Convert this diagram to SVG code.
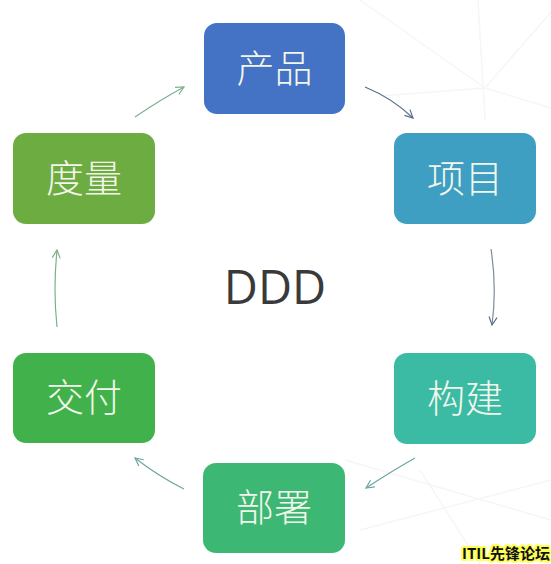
<svg xmlns="http://www.w3.org/2000/svg" width="551" height="564" viewBox="0 0 551 564">
<style>
.bg{stroke:#f6f6f6;stroke-width:1.5;fill:none}
.node rect{rx:13;ry:13}
.node text{font-family:"Noto Sans CJK SC","Noto Sans",sans-serif;font-size:38px;fill:#F3F6EC;text-anchor:middle;font-weight:300}
.conn path{fill:none;stroke-width:1.2}
.blue{stroke:#5B6E8C}
.teal{stroke:#6FA6A3}
.green{stroke:#7BB08C}
</style>
<defs>
<marker id="mb" viewBox="0 0 10 10" refX="9" refY="5" markerWidth="10" markerHeight="10" markerUnits="userSpaceOnUse" orient="auto"><path d="M1,1 L9,5 L1,9" fill="none" stroke="#5B6E8C" stroke-width="1.2"/></marker>
<marker id="mt" viewBox="0 0 10 10" refX="9" refY="5" markerWidth="10" markerHeight="10" markerUnits="userSpaceOnUse" orient="auto"><path d="M1,1 L9,5 L1,9" fill="none" stroke="#6FA6A3" stroke-width="1.2"/></marker>
<marker id="mg" viewBox="0 0 10 10" refX="9" refY="5" markerWidth="10" markerHeight="10" markerUnits="userSpaceOnUse" orient="auto"><path d="M1,1 L9,5 L1,9" fill="none" stroke="#7BB08C" stroke-width="1.2"/></marker>
</defs>
<rect width="551" height="564" fill="#ffffff"/>
<g id="background">
<path class="bg" d="M360,0 L485,88 M478,0 L485,120 M551,12 L485,88 M380,96 L485,88 L551,108"/>
<path class="bg" d="M345,460 L551,520 M360,530 L551,480 M420,470 L480,564"/>
</g>
<g id="connectors" class="conn">
<path class="blue" d="M365,87 Q392,98 413,118" marker-end="url(#mb)"/>
<path class="blue" d="M491,249 Q497,287 492,325" marker-end="url(#mb)" style="stroke:#7D8C99"/>
<path class="teal" d="M415,458 Q392,471 366,488" marker-end="url(#mt)"/>
<path class="teal" d="M184,489 Q158,476 135,458" marker-end="url(#mt)"/>
<path class="green" d="M57,327 Q53,290 57,250" marker-end="url(#mg)"/>
<path class="green" d="M135,117 Q160,100 184,87" marker-end="url(#mg)"/>
</g>
<g id="node-product" class="node"><rect x="204" y="23" width="141" height="91" fill="#4472C4"/><text x="274.5" y="82">产品</text></g>
<g id="node-project" class="node"><rect x="394" y="133" width="142" height="91" fill="#3E9FC3"/><text x="465" y="192">项目</text></g>
<g id="node-build" class="node"><rect x="394" y="353" width="142" height="91" fill="#3BBBA4"/><text x="465" y="412">构建</text></g>
<g id="node-deploy" class="node"><rect x="203" y="463" width="142" height="90" fill="#3DB874"/><text x="274" y="521">部署</text></g>
<g id="node-deliver" class="node"><rect x="13" y="353" width="142" height="90" fill="#41B24B"/><text x="84" y="411">交付</text></g>
<g id="node-measure" class="node"><rect x="13" y="133" width="142" height="91" fill="#6CAC40"/><text x="84" y="192">度量</text></g>
<g id="center"><text x="275" y="304" font-family="Open Sans, Lato, sans-serif" font-size="47" fill="#3a3a3a" text-anchor="middle">DDD</text></g>
<g id="watermark"><text x="550" y="559" font-family="Noto Sans CJK SC, sans-serif" font-size="15" font-weight="bold" fill="#111" stroke="#ffff55" stroke-width="4" stroke-linejoin="round" paint-order="stroke" text-anchor="end">ITIL先锋论坛</text></g>
</svg>
